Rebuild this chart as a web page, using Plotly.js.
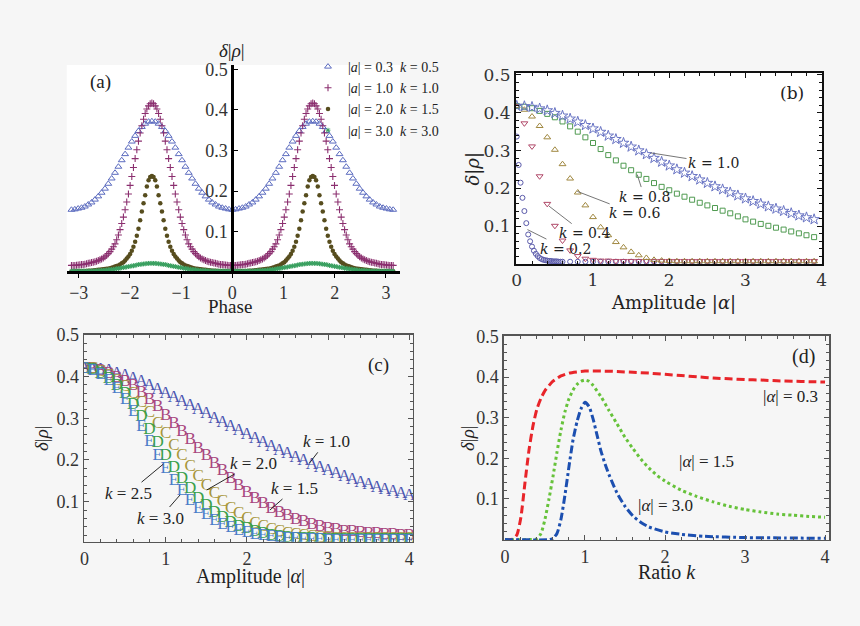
<!DOCTYPE html>
<html><head><meta charset="utf-8">
<script src="https://cdn.plot.ly/plotly-3.0.1.min.js"></script>
<style>html,body{margin:0;padding:0;background:#f6f6f6;}</style>
</head><body>
<div id="chart" style="width:860px;height:626px;"></div>
<script>
// ---------- Panel (a): δ|ρ| vs phase ----------
// coarse sampling (triangles)
const phase = [-3.142,-3.076,-3.011,-2.945,-2.880,-2.814,-2.749,-2.683,-2.618,-2.553,-2.487,-2.422,-2.356,-2.291,-2.225,-2.160,-2.094,-2.029,-1.963,-1.898,-1.833,-1.767,-1.702,-1.636,-1.571,-1.505,-1.440,-1.374,-1.309,-1.244,-1.178,-1.113,-1.047,-0.982,-0.916,-0.851,-0.785,-0.720,-0.654,-0.589,-0.524,-0.458,-0.393,-0.327,-0.262,-0.196,-0.131,-0.065,0,0.065,0.131,0.196,0.262,0.327,0.393,0.458,0.524,0.589,0.654,0.720,0.785,0.851,0.916,0.982,1.047,1.113,1.178,1.244,1.309,1.374,1.440,1.505,1.571,1.636,1.702,1.767,1.833,1.898,1.963,2.029,2.094,2.160,2.225,2.291,2.356,2.422,2.487,2.553,2.618,2.683,2.749,2.814,2.880,2.945,3.011,3.076,3.142];
// fine sampling (crosses, dots, asterisks)
const phaseFine = [-3.142,-3.109,-3.076,-3.043,-3.011,-2.978,-2.945,-2.913,-2.880,-2.847,-2.814,-2.782,-2.749,-2.716,-2.683,-2.651,-2.618,-2.585,-2.553,-2.520,-2.487,-2.454,-2.422,-2.389,-2.356,-2.323,-2.291,-2.258,-2.225,-2.193,-2.160,-2.127,-2.094,-2.062,-2.029,-1.996,-1.963,-1.931,-1.898,-1.865,-1.833,-1.800,-1.767,-1.734,-1.702,-1.669,-1.636,-1.604,-1.571,-1.538,-1.505,-1.473,-1.440,-1.407,-1.374,-1.342,-1.309,-1.276,-1.244,-1.211,-1.178,-1.145,-1.113,-1.080,-1.047,-1.015,-0.982,-0.949,-0.916,-0.884,-0.851,-0.818,-0.785,-0.753,-0.720,-0.687,-0.654,-0.622,-0.589,-0.556,-0.524,-0.491,-0.458,-0.425,-0.393,-0.360,-0.327,-0.295,-0.262,-0.229,-0.196,-0.164,-0.131,-0.098,-0.065,-0.033,0,
 0.033,0.065,0.098,0.131,0.164,0.196,0.229,0.262,0.295,0.327,0.360,0.393,0.425,0.458,0.491,0.524,0.556,0.589,0.622,0.654,0.687,0.720,0.753,0.785,0.818,0.851,0.884,0.916,0.949,0.982,1.015,1.047,1.080,1.113,1.145,1.178,1.211,1.244,1.276,1.309,1.342,1.374,1.407,1.440,1.473,1.505,1.538,1.571,1.604,1.636,1.669,1.702,1.734,1.767,1.800,1.833,1.865,1.898,1.931,1.963,1.996,2.029,2.062,2.094,2.127,2.160,2.193,2.225,2.258,2.291,2.323,2.356,2.389,2.422,2.454,2.487,2.520,2.553,2.585,2.618,2.651,2.683,2.716,2.749,2.782,2.814,2.847,2.880,2.913,2.945,2.978,3.011,3.043,3.076,3.109,3.142];
const a_a03 = [0.154,0.155,0.157,0.159,0.162,0.167,0.172,0.179,0.187,0.196,0.206,0.218,0.231,0.245,0.260,0.276,0.291,0.307,0.322,0.336,0.348,0.358,0.366,0.371,0.372,
 0.371,0.366,0.358,0.348,0.336,0.322,0.307,0.291,0.276,0.260,0.245,0.231,0.218,0.206,0.196,0.187,0.179,0.172,0.167,0.162,0.159,0.157,0.155,0.154,
 0.155,0.157,0.159,0.162,0.167,0.172,0.179,0.187,0.196,0.206,0.218,0.231,0.245,0.260,0.276,0.291,0.307,0.322,0.336,0.348,0.358,0.366,0.371,0.372,
 0.371,0.366,0.358,0.348,0.336,0.322,0.307,0.291,0.276,0.260,0.245,0.231,0.218,0.206,0.196,0.187,0.179,0.172,0.167,0.162,0.159,0.157,0.155,0.154];
const a_a10 = [0.017,0.017,0.017,0.0175,0.018,0.0185,0.019,0.0195,0.020,0.021,0.022,0.023,0.024,0.025,0.026,0.0275,0.029,0.031,0.033,0.035,0.038,0.042,0.046,0.051,0.057,0.063,0.070,0.080,0.092,0.105,0.120,0.136,0.154,0.173,0.193,0.214,0.236,0.258,0.280,0.302,0.323,0.343,0.361,0.377,0.391,0.402,0.410,0.415,0.417,
 0.415,0.410,0.402,0.391,0.377,0.361,0.343,0.323,0.302,0.280,0.258,0.236,0.214,0.193,0.173,0.154,0.136,0.120,0.105,0.092,0.080,0.070,0.063,0.057,0.051,0.046,0.042,0.038,0.035,0.033,0.031,0.029,0.0275,0.026,0.025,0.024,0.023,0.022,0.021,0.020,0.0195,0.019,0.0185,0.018,0.0175,0.017,0.017,0.017,
 0.017,0.017,0.0175,0.018,0.0185,0.019,0.0195,0.020,0.021,0.022,0.023,0.024,0.025,0.026,0.0275,0.029,0.031,0.033,0.035,0.038,0.042,0.046,0.051,0.057,0.063,0.070,0.080,0.092,0.105,0.120,0.136,0.154,0.173,0.193,0.214,0.236,0.258,0.280,0.302,0.323,0.343,0.361,0.377,0.391,0.402,0.410,0.415,0.417,
 0.415,0.410,0.402,0.391,0.377,0.361,0.343,0.323,0.302,0.280,0.258,0.236,0.214,0.193,0.173,0.154,0.136,0.120,0.105,0.092,0.080,0.070,0.063,0.057,0.051,0.046,0.042,0.038,0.035,0.033,0.031,0.029,0.0275,0.026,0.025,0.024,0.023,0.022,0.021,0.020,0.0195,0.019,0.0185,0.018,0.0175,0.017,0.017,0.017];
const a_a20 = [0.002,0.002,0.002,0.0025,0.0025,0.003,0.003,0.003,0.003,0.0035,0.004,0.004,0.004,0.0045,0.005,0.0055,0.006,0.0065,0.007,0.0075,0.008,0.0085,0.009,0.010,0.011,0.0125,0.014,0.0155,0.017,0.019,0.022,0.025,0.029,0.034,0.039,0.045,0.053,0.063,0.075,0.090,0.107,0.128,0.150,0.170,0.190,0.211,0.227,0.235,0.237,
 0.235,0.227,0.211,0.190,0.170,0.150,0.128,0.107,0.090,0.075,0.063,0.053,0.045,0.039,0.034,0.029,0.025,0.022,0.019,0.017,0.0155,0.014,0.0125,0.011,0.010,0.009,0.0085,0.008,0.0075,0.007,0.0065,0.006,0.0055,0.005,0.0045,0.004,0.004,0.004,0.0035,0.003,0.003,0.003,0.003,0.0025,0.0025,0.002,0.002,0.002,
 0.002,0.002,0.0025,0.0025,0.003,0.003,0.003,0.003,0.0035,0.004,0.004,0.004,0.0045,0.005,0.0055,0.006,0.0065,0.007,0.0075,0.008,0.0085,0.009,0.010,0.011,0.0125,0.014,0.0155,0.017,0.019,0.022,0.025,0.029,0.034,0.039,0.045,0.053,0.063,0.075,0.090,0.107,0.128,0.150,0.170,0.190,0.211,0.227,0.235,0.237,
 0.235,0.227,0.211,0.190,0.170,0.150,0.128,0.107,0.090,0.075,0.063,0.053,0.045,0.039,0.034,0.029,0.025,0.022,0.019,0.017,0.0155,0.014,0.0125,0.011,0.010,0.009,0.0085,0.008,0.0075,0.007,0.0065,0.006,0.0055,0.005,0.0045,0.004,0.004,0.004,0.0035,0.003,0.003,0.003,0.003,0.0025,0.0025,0.002,0.002,0.002];
const a_a30 = [0.003,0.003,0.003,0.003,0.003,0.003,0.003,0.003,0.003,0.003,0.003,0.003,0.003,0.0032,0.0035,0.0038,0.004,0.0042,0.0045,0.0048,0.005,0.0055,0.006,0.0065,0.007,0.0075,0.008,0.0088,0.0095,0.010,0.011,0.0118,0.0125,0.013,0.014,0.0148,0.0155,0.016,0.017,0.018,0.019,0.0195,0.020,0.0205,0.021,0.0215,0.022,0.022,0.022,
 0.022,0.022,0.0215,0.021,0.0205,0.020,0.0195,0.019,0.018,0.017,0.016,0.0155,0.0148,0.014,0.013,0.0125,0.0118,0.011,0.010,0.0095,0.0088,0.008,0.0075,0.007,0.0065,0.006,0.0055,0.005,0.0048,0.0045,0.0042,0.004,0.0038,0.0035,0.0032,0.003,0.003,0.003,0.003,0.003,0.003,0.003,0.003,0.003,0.003,0.003,0.003,0.003,
 0.003,0.003,0.003,0.003,0.003,0.003,0.003,0.003,0.003,0.003,0.003,0.003,0.0032,0.0035,0.0038,0.004,0.0042,0.0045,0.0048,0.005,0.0055,0.006,0.0065,0.007,0.0075,0.008,0.0088,0.0095,0.010,0.011,0.0118,0.0125,0.013,0.014,0.0148,0.0155,0.016,0.017,0.018,0.019,0.0195,0.020,0.0205,0.021,0.0215,0.022,0.022,0.022,
 0.022,0.022,0.0215,0.021,0.0205,0.020,0.0195,0.019,0.018,0.017,0.016,0.0155,0.0148,0.014,0.013,0.0125,0.0118,0.011,0.010,0.0095,0.0088,0.008,0.0075,0.007,0.0065,0.006,0.0055,0.005,0.0048,0.0045,0.0042,0.004,0.0038,0.0035,0.0032,0.003,0.003,0.003,0.003,0.003,0.003,0.003,0.003,0.003,0.003,0.003,0.003,0.003];
const a_names = ['|<i>a</i>| = 0.3\u00a0\u00a0<i>k</i> = 0.5','|<i>a</i>| = 1.0\u00a0\u00a0<i>k</i> = 1.0','|<i>a</i>| = 2.0\u00a0\u00a0<i>k</i> = 1.5','|<i>a</i>| = 3.0\u00a0\u00a0<i>k</i> = 3.0'];

// ---------- Panel (b): δ|ρ| vs amplitude, several k ----------
const b_amp = [0,0.1,0.2,0.3,0.4,0.5,0.6,0.7,0.8,0.9,1.0,1.1,1.2,1.3,1.4,1.5,1.6,1.7,1.8,1.9,2.0,2.1,2.2,2.3,2.4,2.5,2.6,2.7,2.8,2.9,3.0,3.1,3.2,3.3,3.4,3.5,3.6,3.7,3.8,3.9];
const b_k10 = [0.418,0.417,0.415,0.411,0.406,0.399,0.392,0.384,0.376,0.367,0.358,0.349,0.339,0.330,0.320,0.310,0.300,0.290,0.280,0.270,0.260,0.250,0.241,0.232,0.223,0.214,0.205,0.197,0.189,0.181,0.173,0.166,0.159,0.152,0.146,0.140,0.134,0.128,0.123,0.118];
const b_k08 = [0.418,0.416,0.412,0.405,0.397,0.388,0.377,0.364,0.350,0.335,0.320,0.304,0.288,0.274,0.260,0.248,0.236,0.225,0.214,0.204,0.195,0.186,0.178,0.170,0.162,0.155,0.148,0.141,0.134,0.126,0.118,0.112,0.106,0.101,0.096,0.091,0.086,0.081,0.076,0.071];
const b_k06 = [0.418,0.408,0.390,0.365,0.335,0.302,0.264,0.226,0.189,0.155,0.124,0.097,0.076,0.058,0.044,0.032,0.023,0.016,0.011,0.009,0.008,0.007,0.007,0.007,0.007,0.007,0.007,0.007,0.007,0.007,0.007,0.007,0.007,0.007,0.007,0.007,0.007,0.007,0.007,0.007];
const b_k04 = [0.418,0.372,0.311,0.232,0.159,0.101,0.062,0.036,0.021,0.014,0.011,0.009,0.009,0.008,0.008,0.008,0.008,0.008,0.008,0.008,0.008,0.008,0.008,0.008,0.008,0.008,0.008,0.008,0.008,0.008,0.008,0.008,0.008,0.008,0.008,0.008,0.008,0.008,0.008,0.008];
const b_amp02 = [0,0.025,0.05,0.075,0.1,0.125,0.15,0.175,0.2,0.225,0.25,0.275,0.3,0.325,0.35,0.375,0.4,0.425,0.45,0.475,0.5,0.525,0.55,0.575,0.6,0.7,0.8,0.9,1.0,1.1,1.2,1.3,1.4,1.5,1.6,1.7,1.8,1.9,2.0,2.1,2.2,2.3,2.4,2.5,2.6,2.7,2.8,2.9,3.0,3.1,3.2,3.3,3.4,3.5,3.6,3.7,3.8,3.9];
const b_k02 = [0.337,0.262,0.215,0.175,0.140,0.108,0.078,0.060,0.046,0.035,0.027,0.021,0.016,0.013,0.011,0.010,0.009,0.008,0.008,0.007,0.007,0.007,0.006,0.006,0.006,0.006,0.006,0.006,0.006,0.006,0.006,0.006,0.006,0.006,0.006,0.006,0.006,0.006,0.006,0.006,0.006,0.006,0.006,0.006,0.006,0.006,0.006,0.006,0.006,0.006,0.006,0.006,0.006,0.006,0.006,0.006,0.006,0.006];
const b_labels = ['<i>k</i> = 1.0','<i>k</i> = 0.8','<i>k</i> = 0.6','<i>k</i> = 0.4','<i>k</i> = 0.2'];

// ---------- Panel (c): letters A–E for k = 1.0 … 3.0 ----------
const c_amp = [0,0.1,0.2,0.3,0.4,0.5,0.6,0.7,0.8,0.9,1.0,1.1,1.2,1.3,1.4,1.5,1.6,1.7,1.8,1.9,2.0,2.1,2.2,2.3,2.4,2.5,2.6,2.7,2.8,2.9,3.0,3.1,3.2,3.3,3.4,3.5,3.6,3.7,3.8,3.9,4.0];
const c_A = [0.420,0.419,0.417,0.413,0.408,0.402,0.395,0.387,0.378,0.369,0.360,0.350,0.340,0.330,0.320,0.310,0.300,0.290,0.280,0.270,0.260,0.250,0.241,0.232,0.223,0.214,0.205,0.197,0.189,0.181,0.173,0.166,0.159,0.152,0.146,0.140,0.134,0.128,0.123,0.118,0.114];
const c_B = [0.420,0.418,0.414,0.407,0.398,0.387,0.377,0.362,0.345,0.327,0.306,0.287,0.268,0.248,0.228,0.209,0.191,0.173,0.155,0.138,0.122,0.108,0.095,0.084,0.074,0.065,0.057,0.051,0.045,0.040,0.036,0.032,0.029,0.027,0.025,0.023,0.022,0.021,0.020,0.019,0.019];
const c_C = [0.420,0.418,0.412,0.403,0.391,0.376,0.358,0.337,0.314,0.288,0.262,0.235,0.209,0.184,0.160,0.138,0.118,0.100,0.084,0.070,0.058,0.048,0.040,0.033,0.028,0.024,0.020,0.018,0.016,0.014,0.013,0.012,0.012,0.011,0.011,0.011,0.010,0.010,0.010,0.010,0.010];
const c_D = [0.420,0.416,0.408,0.395,0.379,0.358,0.333,0.304,0.273,0.241,0.210,0.181,0.154,0.130,0.108,0.090,0.074,0.061,0.050,0.041,0.034,0.028,0.023,0.019,0.016,0.014,0.012,0.011,0.010,0.009,0.009,0.008,0.008,0.008,0.008,0.008,0.008,0.008,0.008,0.008,0.008];
const c_E = [0.420,0.415,0.405,0.390,0.370,0.345,0.315,0.280,0.243,0.210,0.178,0.150,0.125,0.103,0.084,0.068,0.055,0.045,0.037,0.030,0.025,0.021,0.018,0.015,0.013,0.011,0.010,0.009,0.008,0.008,0.007,0.007,0.007,0.007,0.007,0.007,0.007,0.007,0.007,0.007,0.007];
const c_letters = ['A','B','C','D','E'];
const c_labels = ['<i>k</i> = 1.0','<i>k</i> = 1.5','<i>k</i> = 2.0','<i>k</i> = 2.5','<i>k</i> = 3.0'];

// ---------- Panel (d): δ|ρ| vs ratio k ----------
const d_k03 = [0,0.1,0.15,0.2,0.25,0.3,0.35,0.4,0.45,0.5,0.6,0.7,0.8,0.9,1.0,1.2,1.4,1.6,1.8,2.0,2.2,2.4,2.6,2.8,3.0,3.2,3.4,3.6,3.8,4.0];
const d_a03 = [0,0.001,0.012,0.056,0.140,0.220,0.280,0.322,0.348,0.367,0.390,0.403,0.410,0.413,0.415,0.415,0.414,0.412,0.410,0.407,0.404,0.401,0.398,0.396,0.394,0.393,0.391,0.390,0.389,0.388];
const d_k15 = [0,0.3,0.4,0.45,0.5,0.55,0.6,0.65,0.7,0.75,0.8,0.85,0.9,0.95,1.0,1.05,1.1,1.2,1.3,1.4,1.5,1.6,1.7,1.8,1.9,2.0,2.2,2.4,2.6,2.8,3.0,3.2,3.4,3.6,3.8,4.0];
const d_a15 = [0,0,0.002,0.015,0.050,0.100,0.155,0.215,0.270,0.315,0.347,0.368,0.382,0.390,0.393,0.390,0.380,0.352,0.318,0.285,0.252,0.224,0.198,0.176,0.158,0.144,0.122,0.106,0.093,0.082,0.074,0.068,0.063,0.060,0.057,0.055];
const d_k30 = [0,0.55,0.6,0.65,0.7,0.75,0.8,0.85,0.9,0.95,1.0,1.05,1.1,1.15,1.2,1.25,1.3,1.4,1.5,1.6,1.7,1.8,2.0,2.2,2.5,3.0,3.5,4.0];
const d_a30 = [0,0,0.003,0.015,0.050,0.110,0.180,0.245,0.290,0.322,0.338,0.328,0.298,0.258,0.218,0.187,0.160,0.115,0.082,0.058,0.042,0.031,0.019,0.013,0.008,0.005,0.004,0.003];
const d_labels = ['|<i>α</i>| = 0.3','|<i>α</i>| = 1.5','|<i>α</i>| = 3.0'];

// ---------- styling ----------
const SERIF = 'Liberation Serif, Times New Roman, serif';
const WIDE = 'DejaVu Serif, serif';
const TXT = '#222';

const traces = [
  {x: phase, y: a_a03, xaxis:'x', yaxis:'y', mode:'markers', name:a_names[0],
   marker:{symbol:'triangle-up-open', size:6, color:'#5b6bbf', line:{width:1}}},
  {x: phaseFine, y: a_a10, xaxis:'x', yaxis:'y', mode:'markers', name:a_names[1],
   marker:{symbol:'cross-thin-open', size:5, color:'#8b2f6f', line:{width:1.1, color:'#8b2f6f'}}},
  {x: phaseFine, y: a_a20, xaxis:'x', yaxis:'y', mode:'markers', name:a_names[2],
   marker:{symbol:'circle', size:4.5, color:'#574d1e'}},
  {x: phaseFine, y: a_a30, xaxis:'x', yaxis:'y', mode:'markers', name:a_names[3],
   marker:{symbol:'asterisk-open', size:4, color:'#3aa060', line:{width:1, color:'#3aa060'}}},

  {x: b_amp02, y: b_k02, xaxis:'x2', yaxis:'y2', mode:'markers', showlegend:false,
   marker:{symbol:'circle-open', size:5, color:'#5a5aaa', line:{width:1}}},
  {x: b_amp, y: b_k04, xaxis:'x2', yaxis:'y2', mode:'markers', showlegend:false,
   marker:{symbol:'triangle-down-open', size:6, color:'#b04868', line:{width:1}}},
  {x: b_amp, y: b_k06, xaxis:'x2', yaxis:'y2', mode:'markers', showlegend:false,
   marker:{symbol:'triangle-up-open', size:6, color:'#a08840', line:{width:1}}},
  {x: b_amp, y: b_k08, xaxis:'x2', yaxis:'y2', mode:'markers', showlegend:false,
   marker:{symbol:'square-open', size:5, color:'#4f9a50', line:{width:1}}},
  {x: b_amp, y: b_k10, xaxis:'x2', yaxis:'y2', mode:'markers', showlegend:false,
   marker:{symbol:'star-open', size:8, color:'#6a75c4', line:{width:1}}}
];

const cSeries = [c_A, c_B, c_C, c_D, c_E];
const cColors = ['#4c55b0','#a8467e','#a8963a','#3aa04a','#4a7cc8'];
cSeries.forEach((ys, i) => {
  traces.push({x: c_amp, y: ys, xaxis:'x3', yaxis:'y3', mode:'text', showlegend:false,
    text: ys.map(() => c_letters[i]), textposition:'middle center',
    textfont:{family:SERIF, size:17, color:cColors[i]}});
});

traces.push(
  {x: d_k03, y: d_a03, xaxis:'x4', yaxis:'y4', mode:'lines', showlegend:false,
   line:{color:'#e8252a', width:3, dash:'8px,4px', shape:'spline', smoothing:0.6}},
  {x: d_k15, y: d_a15, xaxis:'x4', yaxis:'y4', mode:'lines', showlegend:false,
   line:{color:'#66c23a', width:3, dash:'3px,3px', shape:'spline', smoothing:0.6}},
  {x: d_k30, y: d_a30, xaxis:'x4', yaxis:'y4', mode:'lines', showlegend:false,
   line:{color:'#1c4fb0', width:3, dash:'8px,3px,3px,3px', shape:'spline', smoothing:0.6}}
);

const tickFont = {family:SERIF, size:18, color:'#333'};
const yTicks = {tickvals:[0.1,0.2,0.3,0.4,0.5], ticktext:['0.1','0.2','0.3','0.4','0.5']};
const xTicks4 = {tickvals:[0,1,2,3,4], ticktext:['0','1','2','3','4']};
function frameAxis(extra, color, lw, font) {
  return Object.assign({showgrid:false, zeroline:false, showline:true, mirror:'ticks',
    linecolor:color, linewidth:lw, ticks:'inside', ticklen:5, tickcolor:color, tickwidth:1,
    tickfont:font, automargin:false}, extra);
}

function ann(text, px, py, size, family, extra) {
  return Object.assign({text:text, xref:'paper', yref:'paper', x:px/860, y:1-py/626,
    showarrow:false, font:{family:family||SERIF, size:size, color:TXT},
    xanchor:'center', yanchor:'middle'}, extra||{});
}
function arrowAnn(text, xr, yr, x, y, ax, ay, size, family, col) {
  return {text:text, xref:xr, yref:yr, x:x, y:y, ax:ax, ay:ay, showarrow:true,
    arrowhead:0, arrowwidth:0.9, arrowcolor:col, standoff:0,
    font:{family:family, size:size, color:TXT}};
}

const annotations = [
  ann('(a)', 100, 81.7, 19),
  ann('<i>δ</i>|<i>ρ</i>|', 231.7, 50.7, 19),
  ann('Phase', 230, 306, 19),
  ann('(b)', 791.7, 93.3, 17, WIDE),
  ann('<i>δ</i>|<i>ρ</i>|', 473.3, 168.3, 18, WIDE, {textangle:-90}),
  ann('Amplitude |<i>α</i>|', 673.3, 303.3, 18, WIDE),
  ann('(c)', 378.3, 365, 19),
  ann('<i>δ</i>|<i>ρ</i>|', 41.7, 438.3, 19, SERIF, {textangle:-90}),
  ann('Amplitude |<i>α</i>|', 250, 576.7, 20),
  ann('(d)', 803, 356.7, 20),
  ann('<i>δ</i>|<i>ρ</i>|', 467, 438, 19, SERIF, {textangle:-90}),
  ann('Ratio <i>k</i>', 667.3, 571.7, 20),
  ann(d_labels[0], 790, 396.7, 17),
  ann(d_labels[1], 706.7, 461.7, 17),
  ann(d_labels[2], 665, 505, 17),
  arrowAnn(b_labels[0], 'x2','y2', 1.754, 0.294, 63, 10, 14, WIDE, '#666'),
  arrowAnn(b_labels[1], 'x2','y2', 1.58, 0.2365, 7, 22, 14, WIDE, '#666'),
  arrowAnn(b_labels[2], 'x2','y2', 0.794, 0.192, 57, 22, 14, WIDE, '#666'),
  arrowAnn(b_labels[3], 'x2','y2', 0.423, 0.153, 35, 27, 14, WIDE, '#666'),
  arrowAnn(b_labels[4], 'x2','y2', 0.14, 0.091, 38, 19, 14, WIDE, '#666'),
  arrowAnn(c_labels[0], 'x3','y3', 2.768, 0.192, 17, -22, 17, SERIF, '#111'),
  arrowAnn(c_labels[1], 'x3','y3', 2.284, 0.080, 25, -22, 17, SERIF, '#111'),
  arrowAnn(c_labels[2], 'x3','y3', 1.505, 0.128, 47, -27, 17, SERIF, '#111'),
  arrowAnn(c_labels[3], 'x3','y3', 0.97, 0.19, -35, 29, 17, SERIF, '#111'),
  arrowAnn(c_labels[4], 'x3','y3', 1.176, 0.116, -20, 23, 17, SERIF, '#111')
];

const layout = {
  width:860, height:626, autosize:false,
  margin:{l:0, r:0, t:0, b:0, pad:0},
  paper_bgcolor:'#f6f6f6', plot_bgcolor:'rgba(0,0,0,0)',
  showlegend:true,
  legend:{x:308/860, y:1-51/626, xanchor:'left', yanchor:'top', bgcolor:'rgba(0,0,0,0)',
    font:{family:SERIF, size:14, color:TXT}, itemwidth:30, tracegroupgap:0},
  xaxis:{domain:[0.0776,0.4651], range:[-3.234,3.275], anchor:'free', position:0.565,
    showgrid:false, zeroline:false, showline:true, linecolor:'#000', linewidth:2.5,
    ticks:'outside', ticklen:4, tickcolor:'#000', tickvals:[-3,-2,-1,0,1,2,3],
    tickfont:tickFont, automargin:false},
  yaxis:Object.assign({domain:[0.5623,0.8962], range:[-0.0042,0.5106], anchor:'free', position:0.2701,
    showgrid:false, zeroline:false, showline:true, linecolor:'#000', linewidth:2.5,
    ticks:'inside', ticklen:4, tickcolor:'#000', tickfont:tickFont, automargin:false}, yTicks),
  xaxis2:frameAxis(Object.assign({domain:[0.6,0.9555], range:[-0.01,4.0], anchor:'y2',
    minor:{ticks:'inside', ticklen:3, dtick:0.2, tickcolor:'#111'}}, xTicks4), '#111', 2,
    {family:WIDE, size:17, color:'#333'}),
  yaxis2:frameAxis(Object.assign({domain:[0.5783,0.8839], range:[0,0.506], anchor:'x2',
    minor:{ticks:'inside', ticklen:3, dtick:0.02, tickcolor:'#111'}}, yTicks), '#111', 2,
    {family:WIDE, size:17, color:'#333'}),
  xaxis3:frameAxis(Object.assign({domain:[0.0977,0.4802], range:[-0.006,4.045], anchor:'y3',
    minor:{ticks:'inside', ticklen:3, dtick:0.2, tickcolor:'#555'}}, xTicks4), '#555', 1.5, tickFont),
  yaxis3:frameAxis(Object.assign({domain:[0.1347,0.4649], range:[0.004,0.5], anchor:'x3',
    minor:{ticks:'inside', ticklen:3, dtick:0.02, tickcolor:'#555'}}, yTicks), '#555', 1.5, tickFont),
  xaxis4:frameAxis(Object.assign({domain:[0.586,0.964], range:[-0.0125,4.05], anchor:'y4',
    minor:{ticks:'inside', ticklen:3, dtick:0.2, tickcolor:'#555'}}, xTicks4), '#555', 1.5, tickFont),
  yaxis4:frameAxis(Object.assign({domain:[0.1374,0.4633], range:[-0.001,0.5015], anchor:'x4',
    minor:{ticks:'inside', ticklen:3, dtick:0.02, tickcolor:'#555'}}, yTicks), '#555', 1.5, tickFont),
  shapes:[
    {type:'rect', xref:'x domain', yref:'y domain', x0:0, x1:1, y0:0, y1:1, layer:'below',
     fillcolor:'#ffffff', line:{width:0}},
    {type:'rect', xref:'x2 domain', yref:'y2 domain', x0:0, x1:1, y0:0, y1:1, layer:'below',
     fillcolor:'#ffffff', line:{width:0}}
  ],
  annotations:annotations
};

Plotly.newPlot('chart', traces, layout, {displayModeBar:false, staticPlot:true});
</script>
</body></html>
